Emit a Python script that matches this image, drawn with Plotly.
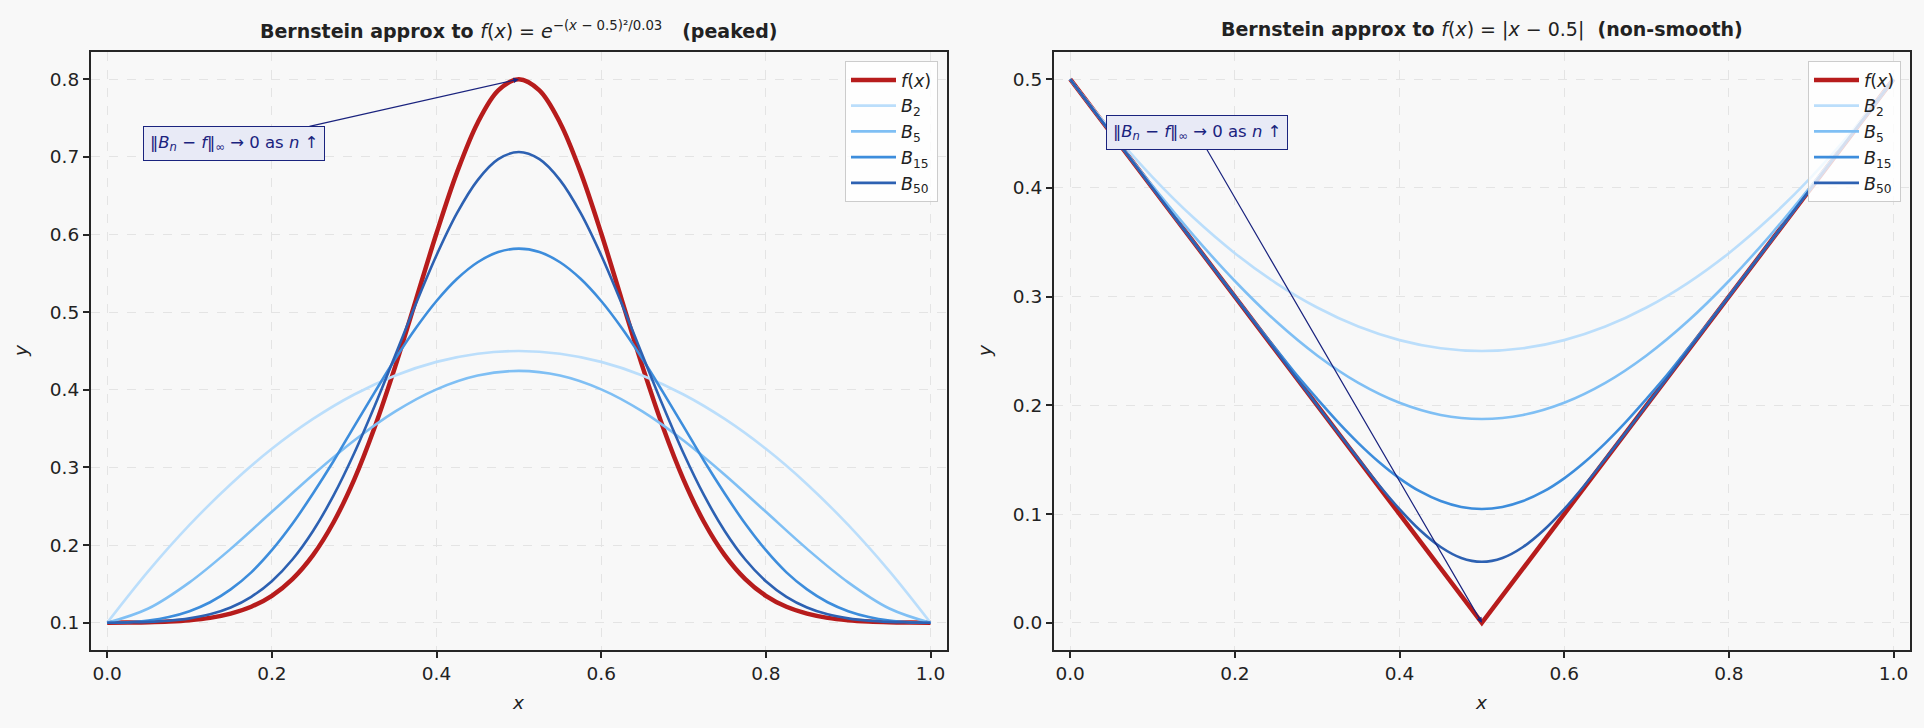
import plotly.graph_objects as go

# ---------------- data ----------------
x_coarse = [0.0, 0.05, 0.1, 0.15, 0.2, 0.25, 0.3, 0.35, 0.4, 0.45, 0.5,
            0.55, 0.6, 0.65, 0.7, 0.75, 0.8, 0.85, 0.9, 0.95, 1.0]
x_fine = [0.0, 0.025, 0.05, 0.075, 0.1, 0.125, 0.15, 0.175, 0.2, 0.225, 0.25,
          0.275, 0.3, 0.325, 0.35, 0.375, 0.4, 0.425, 0.45, 0.475, 0.5,
          0.525, 0.55, 0.575, 0.6, 0.625, 0.65, 0.675, 0.7, 0.725, 0.75,
          0.775, 0.8, 0.825, 0.85, 0.875, 0.9, 0.925, 0.95, 0.975, 1.0]

# left panel: peaked function (fine grid)
f_left = [0.1002, 0.1004, 0.1008, 0.1017, 0.1034, 0.1064, 0.1118, 0.1207, 0.1348, 0.1563, 0.1872,
          0.2295, 0.2845, 0.3522, 0.4306, 0.5159, 0.6016, 0.6803, 0.7440, 0.7856, 0.8000,
          0.7856, 0.7440, 0.6803, 0.6016, 0.5159, 0.4306, 0.3522, 0.2845, 0.2295, 0.1872,
          0.1563, 0.1348, 0.1207, 0.1118, 0.1064, 0.1034, 0.1017, 0.1008, 0.1004, 0.1002]
b15_left = [0.1, 0.1008, 0.1030, 0.1075, 0.1150, 0.1265, 0.1430, 0.1650, 0.1935, 0.2275, 0.2665,
            0.3083, 0.3530, 0.3971, 0.4400, 0.4796, 0.5144, 0.5430, 0.5643, 0.5774, 0.5818,
            0.5774, 0.5643, 0.5430, 0.5144, 0.4796, 0.4400, 0.3971, 0.3530, 0.3083, 0.2665,
            0.2275, 0.1935, 0.1650, 0.1430, 0.1265, 0.1150, 0.1075, 0.1030, 0.1008, 0.1]
b50_left = [0.1, 0.1005, 0.1012, 0.1027, 0.1057, 0.1109, 0.1197, 0.1335, 0.1536, 0.1815, 0.2183,
            0.2640, 0.3183, 0.3795, 0.4449, 0.5109, 0.5733, 0.6278, 0.6701, 0.6970, 0.7062,
            0.6970, 0.6701, 0.6278, 0.5733, 0.5109, 0.4449, 0.3795, 0.3183, 0.2640, 0.2183,
            0.1815, 0.1536, 0.1335, 0.1197, 0.1109, 0.1057, 0.1027, 0.1012, 0.1005, 0.1]
# left panel: low-degree polynomials (coarse grid)
b2_left = [0.1, 0.1665, 0.226, 0.2785, 0.324, 0.3625, 0.394, 0.4185, 0.436, 0.4465, 0.45,
           0.4465, 0.436, 0.4185, 0.394, 0.3625, 0.324, 0.2785, 0.226, 0.1665, 0.1]
b5_left = [0.1, 0.1184, 0.1521, 0.1952, 0.2429, 0.2906, 0.3347, 0.3722, 0.4006, 0.4184, 0.4244,
           0.4184, 0.4006, 0.3722, 0.3347, 0.2906, 0.2429, 0.1952, 0.1521, 0.1184, 0.1]

# right panel: |x - 0.5|
f_right_x = [0.0, 0.5, 1.0]
f_right = [0.5, 0.0, 0.5]
b2_right = [0.5, 0.4525, 0.41, 0.3725, 0.34, 0.3125, 0.29, 0.2725, 0.26, 0.2525, 0.25,
            0.2525, 0.26, 0.2725, 0.29, 0.3125, 0.34, 0.3725, 0.41, 0.4525, 0.5]
b5_right = [0.5, 0.4503, 0.4019, 0.3562, 0.3144, 0.2773, 0.2459, 0.2207, 0.2024, 0.1912, 0.1875,
            0.1912, 0.2024, 0.2207, 0.2459, 0.2773, 0.3144, 0.3562, 0.4019, 0.4503, 0.5]
b15_right = [0.5, 0.475, 0.45, 0.425, 0.4, 0.375, 0.3501, 0.3252, 0.3004, 0.2757, 0.2518,
             0.2280, 0.2060, 0.1848, 0.1653, 0.1479, 0.1329, 0.1208, 0.1120, 0.1066, 0.1047,
             0.1066, 0.1120, 0.1208, 0.1329, 0.1479, 0.1653, 0.1848, 0.2060, 0.2280, 0.2518,
             0.2757, 0.3004, 0.3252, 0.3501, 0.375, 0.4, 0.425, 0.45, 0.475, 0.5]
b50_right = [0.5, 0.475, 0.45, 0.425, 0.4, 0.375, 0.35, 0.325, 0.3, 0.275, 0.25,
             0.2250, 0.2001, 0.1752, 0.1508, 0.1268, 0.1046, 0.0851, 0.0697, 0.0596, 0.0561,
             0.0596, 0.0697, 0.0851, 0.1046, 0.1268, 0.1508, 0.1752, 0.2001, 0.2250, 0.25,
             0.275, 0.3, 0.325, 0.35, 0.375, 0.4, 0.425, 0.45, 0.475, 0.5]

series_names = ["<i>f</i>(<i>x</i>)", "<i>B</i><sub>2</sub>", "<i>B</i><sub>5</sub>",
                "<i>B</i><sub>15</sub>", "<i>B</i><sub>50</sub>"]
x_ticks = [0.0, 0.2, 0.4, 0.6, 0.8, 1.0]
y_ticks_left = [0.1, 0.2, 0.3, 0.4, 0.5, 0.6, 0.7, 0.8]
y_ticks_right = [0.0, 0.1, 0.2, 0.3, 0.4, 0.5]

# ---------------- styles ----------------
RED = "#b71c1c"
BLUES = ["#bbdefb", "#7fbff4", "#3d8ddc", "#2d61b2"]
BG = "#f8f8f8"
FONT = "DejaVu Sans"
TXT = "#222222"
NAVY = "#1a237e"

fig = go.Figure()

left_blue = [(x_coarse, b2_left), (x_coarse, b5_left), (x_fine, b15_left), (x_fine, b50_left)]
right_blue = [(x_coarse, b2_right), (x_coarse, b5_right), (x_fine, b15_right), (x_fine, b50_right)]

# left
fig.add_trace(go.Scatter(x=x_fine, y=f_left, mode="lines", name=series_names[0],
                         line=dict(color=RED, width=4.5, shape="spline"),
                         xaxis="x", yaxis="y", legend="legend"))
for i, (xs, ys) in enumerate(left_blue):
    fig.add_trace(go.Scatter(x=xs, y=ys, mode="lines", name=series_names[i + 1],
                             line=dict(color=BLUES[i], width=2.6, shape="spline"),
                             xaxis="x", yaxis="y", legend="legend"))
# right
fig.add_trace(go.Scatter(x=f_right_x, y=f_right, mode="lines", name=series_names[0],
                         line=dict(color=RED, width=4.5),
                         xaxis="x2", yaxis="y2", legend="legend2"))
for i, (xs, ys) in enumerate(right_blue):
    fig.add_trace(go.Scatter(x=xs, y=ys, mode="lines", name=series_names[i + 1],
                             line=dict(color=BLUES[i], width=2.6, shape="spline"),
                             xaxis="x2", yaxis="y2", legend="legend2"))

W, H = 1924, 728
xl0, xl1 = 90.7 / W, 947 / W
xr0, xr1 = 1053.7 / W, 1910 / W
y0, y1 = 1 - 650 / H, 1 - 52 / H

axis_common = dict(showline=True, linecolor="#262626", linewidth=1.5, mirror=True,
                   ticks="outside", ticklen=6, tickwidth=1.5, tickcolor="#262626",
                   showgrid=True, gridcolor="#e4e4e4", griddash="dash", gridwidth=1,
                   zeroline=False, tickfont=dict(family=FONT, size=18.5, color=TXT),
                   automargin=False)

legend_common = dict(bgcolor="rgba(255,255,255,0.8)", bordercolor="#cccccc", borderwidth=1,
                     font=dict(family=FONT, size=17.5, color=TXT), xanchor="right", yanchor="top",
                     tracegroupgap=0, itemwidth=45)

fig.update_layout(
    width=W, height=H,
    margin=dict(l=0, r=0, t=0, b=0),
    paper_bgcolor=BG, plot_bgcolor=BG,
    font=dict(family=FONT, color=TXT),
    xaxis=dict(domain=[xl0, xl1], anchor="y", range=[-0.02, 1.02], tickvals=x_ticks,
               tickformat=".1f", **axis_common),
    yaxis=dict(domain=[y0, y1], anchor="x", range=[0.065, 0.835], tickvals=y_ticks_left,
               tickformat=".1f", **axis_common),
    xaxis2=dict(domain=[xr0, xr1], anchor="y2", range=[-0.02, 1.02], tickvals=x_ticks,
                tickformat=".1f", **axis_common),
    yaxis2=dict(domain=[y0, y1], anchor="x2", range=[-0.025, 0.525], tickvals=y_ticks_right,
                tickformat=".1f", **axis_common),
    legend=dict(x=938 / W, y=1 - 61 / H, **legend_common),
    legend2=dict(x=1901 / W, y=1 - 61 / H, **legend_common),
    showlegend=True,
)

annots = []
# titles
annots.append(dict(xref="paper", yref="paper", x=(xl0 + xl1) / 2, y=1 - 30 / H,
                   xanchor="center", yanchor="middle", showarrow=False,
                   font=dict(family=FONT, size=19, color=TXT),
                   text="<b>Bernstein approx to </b><i>f</i>(<i>x</i>) = <i>e</i>"
                        "<sup>−(<i>x</i> − 0.5)²/0.03</sup><b>\u00a0\u00a0\u00a0(peaked)</b>"))
annots.append(dict(xref="paper", yref="paper", x=(xr0 + xr1) / 2, y=1 - 30 / H,
                   xanchor="center", yanchor="middle", showarrow=False,
                   font=dict(family=FONT, size=19, color=TXT),
                   text="<b>Bernstein approx to </b><i>f</i>(<i>x</i>) = |<i>x</i> − 0.5|"
                        "<b>\u00a0\u00a0(non-smooth)</b>"))
# axis labels
for xc in [(xl0 + xl1) / 2, (xr0 + xr1) / 2]:
    annots.append(dict(xref="paper", yref="paper", x=xc,
                       y=1 - 702 / H, xanchor="center", yanchor="middle", showarrow=False,
                       font=dict(family=FONT, size=18.5, color=TXT), text="<i>x</i>"))
for xp in [20 / W, 984 / W]:
    annots.append(dict(xref="paper", yref="paper", x=xp, y=1 - 351 / H, textangle=-90,
                       xanchor="center", yanchor="middle", showarrow=False,
                       font=dict(family=FONT, size=18.5, color=TXT), text="<i>y</i>"))

ann_text = "‖<i>B</i><sub><i>n</i></sub> − <i>f</i>‖<sub>∞</sub> → 0 as <i>n</i> ↑"
ann_style = dict(showarrow=True, arrowhead=2, arrowsize=0.9, arrowwidth=1.2, arrowcolor=NAVY,
                 bgcolor="#e8eaf6", bordercolor=NAVY, borderwidth=1, borderpad=6,
                 font=dict(family=FONT, size=16.5, color=NAVY))
annots.append(dict(xref="x", yref="y", x=0.5, y=0.8, axref="x", ayref="y",
                   ax=0.154, ay=0.7174, text=ann_text, **ann_style))
annots.append(dict(xref="x2", yref="y2", x=0.5, y=0.0, axref="x2", ayref="y2",
                   ax=0.154, ay=0.4509, text=ann_text, **ann_style))

fig.update_layout(annotations=annots)

fig.write_html("out.html")
